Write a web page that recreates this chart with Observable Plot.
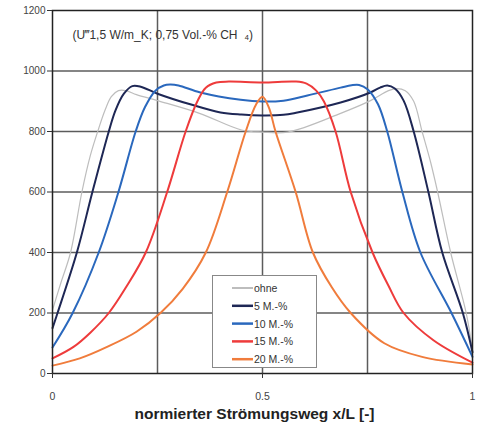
<!DOCTYPE html>
<html><head><meta charset="utf-8">
<script src="https://cdn.jsdelivr.net/npm/d3@7"></script>
<script src="https://cdn.jsdelivr.net/npm/@observablehq/plot@0.6"></script>
<style>
html,body{margin:0;padding:0;background:#fff;}
#wrap{position:relative;width:480px;height:428px;overflow:hidden;}
#lb{position:absolute;left:1px;top:0;width:2px;height:428px;background:#8a8a8a;}
#legend{position:absolute;left:212px;top:275px;width:105px;height:93px;border:1px solid #888;background:#fff;box-sizing:border-box;}
#legend svg{display:block;}
</style></head><body><div id="wrap"><div id="lb"></div></div>
<script>
// Data
const seriesNames = ["ohne", "5 M.-%", "10 M.-%", "15 M.-%", "20 M.-%"];
const seriesColors = ["#bdbdbd", "#1e2755", "#2a68bd", "#ee3b3b", "#f07c3c"];
const seriesWidths = [1.2, 2, 2, 2, 2];

const xOhne = [0, 0.02, 0.043, 0.07, 0.09, 0.11, 0.125, 0.14, 0.157, 0.175, 0.2, 0.25, 0.35, 0.45, 0.5, 0.56, 0.686, 0.757, 0.8, 0.82, 0.84, 0.86, 0.88, 0.9, 0.917, 0.948, 0.985, 1];
const yOhne = [210, 300, 400, 600, 720, 810, 870, 915, 935, 935, 922, 902, 860, 805, 798, 798, 860, 902, 935, 942, 935, 900, 800, 700, 600, 400, 200, 75];

const x5 = [0, 0.012, 0.058, 0.095, 0.134, 0.15, 0.17, 0.19, 0.21, 0.25, 0.33, 0.4, 0.45, 0.5, 0.55, 0.58, 0.686, 0.757, 0.78, 0.797, 0.815, 0.836, 0.86, 0.895, 0.928, 0.977, 1];
const y5 = [150, 200, 400, 600, 800, 870, 925, 950, 948, 925, 889, 863, 856, 853, 855, 862, 896, 929, 945, 952, 942, 902, 800, 600, 400, 200, 70];

const x10 = [0, 0.048, 0.11, 0.157, 0.198, 0.22, 0.245, 0.265, 0.28, 0.3, 0.352, 0.448, 0.5, 0.55, 0.607, 0.686, 0.712, 0.73, 0.75, 0.775, 0.797, 0.833, 0.876, 0.95, 1];
const y10 = [86, 200, 400, 600, 800, 880, 935, 952, 955, 952, 929, 905, 899, 902, 919, 945, 953, 954, 940, 890, 800, 600, 400, 200, 55];

const x15 = [0, 0.05, 0.09, 0.134, 0.175, 0.222, 0.273, 0.317, 0.345, 0.365, 0.39, 0.42, 0.5, 0.58, 0.605, 0.628, 0.646, 0.674, 0.71, 0.762, 0.8, 0.836, 0.907, 1];
const y15 = [50, 88, 135, 200, 285, 400, 600, 800, 900, 945, 962, 965, 962, 965, 958, 935, 900, 800, 600, 400, 290, 200, 110, 36];

const x20 = [0, 0.065, 0.13, 0.2, 0.257, 0.31, 0.365, 0.416, 0.46, 0.485, 0.5, 0.515, 0.531, 0.579, 0.62, 0.665, 0.71, 0.79, 0.88, 1];
const y20 = [26, 50, 88, 138, 200, 280, 400, 600, 800, 890, 915, 880, 800, 600, 400, 285, 200, 100, 55, 30];

const yTicks = [0, 200, 400, 600, 800, 1000, 1200];
const xTicks = [0, 0.5, 1];
const xGrid = [0.25, 0.5, 0.75];
const xTitle = "normierter Strömungsweg x/L [-]";
const annotation = "(U‴1,5 W/m_K; 0,75 Vol.-% CH  ₄)";

const xs = [xOhne, x5, x10, x15, x20];
const ys = [yOhne, y5, y10, y15, y20];
const rows = [];
seriesNames.forEach((s, i) => xs[i].forEach((x, j) => rows.push({series: s, x, y: ys[i][j]})));

const font = "'Liberation Sans Narrow','Liberation Sans',Arial,sans-serif";

const chart = Plot.plot({
  width: 480, height: 428,
  marginLeft: 52, marginRight: 8, marginTop: 10, marginBottom: 55,
  style: {fontFamily: font, background: "#fff", color: "#333"},
  x: {domain: [0, 1]},
  y: {domain: [0, 1200]},
  marks: [
    Plot.ruleY(yTicks.slice(1, -1), {stroke: "#5c5c5c", strokeWidth: 1.5}),
    Plot.ruleX(xGrid, {stroke: "#5c5c5c", strokeWidth: 1.5}),
    ...seriesNames.map((s, i) => Plot.line(rows.filter(r => r.series === s), {
      x: "x", y: "y", stroke: seriesColors[i], strokeWidth: seriesWidths[i], curve: "catmull-rom"
    })),
    Plot.frame({stroke: "#222", strokeWidth: 1.5}),
    Plot.axisY({ticks: yTicks, tickSize: 5, tickPadding: 2, fontSize: 10, label: null, tickFormat: d => String(d), fill: "#444"}),
    Plot.axisX({ticks: xTicks, tickSize: 5, tickPadding: 14, fontSize: 10.5, label: null, tickFormat: d => String(d), fill: "#444"}),
    Plot.text([xTitle], {frameAnchor: "bottom", dy: 45, dx: -8, fontSize: 15.5, fontWeight: "bold", fill: "#222"}),
    Plot.text([annotation], {frameAnchor: "top-left", dx: 20, dy: 20, fontSize: 12, fill: "#333", textAnchor: "start"})
  ]
});
document.getElementById("wrap").appendChild(chart);
chart.style.position = "absolute"; chart.style.left = "0"; chart.style.top = "0";

// Legend inside the plot area
const leg = document.createElement("div");
leg.id = "legend";
const ns = "http://www.w3.org/2000/svg";
const lsvg = document.createElementNS(ns, "svg");
lsvg.setAttribute("width", 103); lsvg.setAttribute("height", 91);
seriesNames.forEach((s, i) => {
  const cy = 12 + i * 17.8;
  const ln = document.createElementNS(ns, "line");
  ln.setAttribute("x1", 19); ln.setAttribute("x2", 40);
  ln.setAttribute("y1", cy); ln.setAttribute("y2", cy);
  ln.setAttribute("stroke", seriesColors[i]); ln.setAttribute("stroke-width", i === 0 ? 2 : 2.5);
  lsvg.appendChild(ln);
  const t = document.createElementNS(ns, "text");
  t.setAttribute("x", 41); t.setAttribute("y", cy + 4);
  t.setAttribute("font-size", 10.5); t.setAttribute("font-family", font); t.setAttribute("fill", "#333");
  t.textContent = s;
  lsvg.appendChild(t);
});
leg.appendChild(lsvg);
document.getElementById("wrap").appendChild(leg);
</script></body></html>
